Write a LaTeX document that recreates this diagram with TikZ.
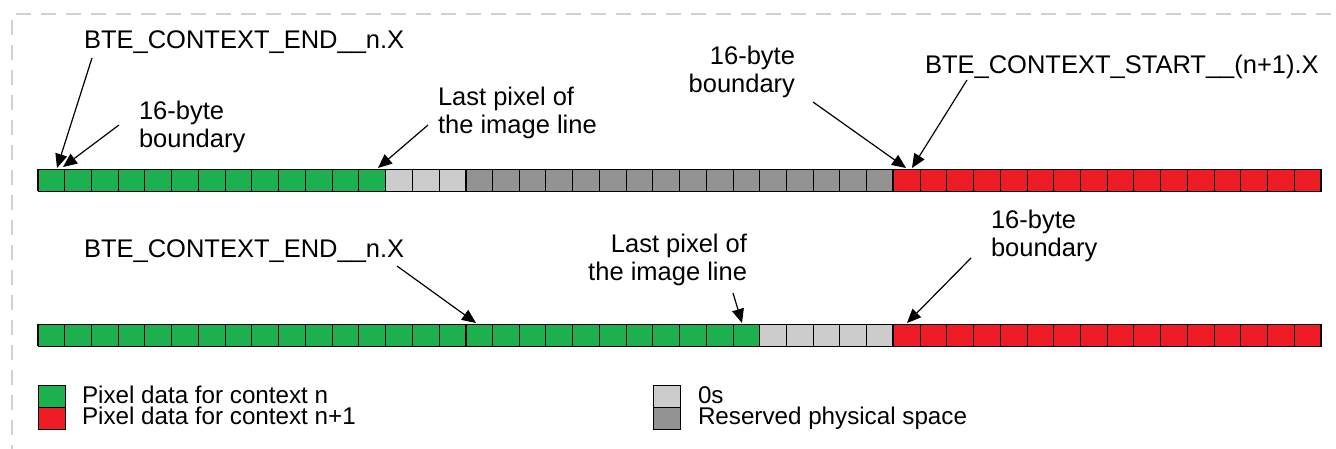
\documentclass[tikz,border=0pt]{standalone}
\usepackage{fontspec}
\setmainfont{Liberation Sans}
\usetikzlibrary{arrows.meta}
\definecolor{cgreen}{RGB}{29,176,78}
\definecolor{cred}{RGB}{238,29,37}
\definecolor{clight}{RGB}{204,204,204}
\definecolor{cdark}{RGB}{147,147,147}
\definecolor{cframe}{RGB}{210,210,210}
\begin{document}
\begin{tikzpicture}[x=1pt,y=-1pt,
  cell/.style={draw=black, line width=0.9pt, minimum width=26.73pt, minimum height=22pt, inner sep=0pt, outer sep=0pt, anchor=north west},
  key/.style={draw=black, line width=0.9pt, minimum width=27pt, minimum height=22pt, inner sep=0pt, outer sep=0pt, anchor=north west},
  lbl/.style={font=\fontsize{25.5}{28}\selectfont, inner sep=0pt, outer sep=0pt},
  leg/.style={font=\fontsize{24.2}{21}\selectfont, inner sep=0pt, outer sep=0pt, align=left, anchor=base west},
  ptr/.style={-{Triangle[length=14pt,width=12pt]}, line width=1.2pt},
  sep/.style={line width=2.2pt},
  frm/.style={draw=cframe, line width=2pt, dash pattern=on 15pt off 10pt}]
\useasboundingbox (0,0) rectangle (1336,449);
\fill[white] (0,0) rectangle (1336,449);
\draw[frm] (12,460) -- (12,14) -- (1345,14);

% bar 1
\foreach \i in {0,...,12} \node[cell, fill=cgreen] (a\i) at ({38+26.73*\i},169) {};
\foreach \i in {13,14,15} \node[cell, fill=clight] (a\i) at ({38+26.73*\i},169) {};
\foreach \i in {16,...,31} \node[cell, fill=cdark] (a\i) at ({38+26.73*\i},169) {};
\foreach \i in {32,...,47} \node[cell, fill=cred] (a\i) at ({38+26.73*\i},169) {};
% bar 2
\foreach \i in {0,...,26} \node[cell, fill=cgreen] (b\i) at ({38+26.73*\i},324) {};
\foreach \i in {27,...,31} \node[cell, fill=clight] (b\i) at ({38+26.73*\i},324) {};
\foreach \i in {32,...,47} \node[cell, fill=cred] (b\i) at ({38+26.73*\i},324) {};

\foreach \r in {a,b} {
  \foreach \k in {0,16,32} \draw[sep] (\r\k.north west) -- (\r\k.south west);
  \draw[sep] (\r47.north east) -- (\r47.south east);
}

% labels row 1 (multi-line nodes: base = last line baseline)
\node[lbl, anchor=base west] (t1) at (84,49) {BTE\_CONTEXT\_END\_\_n.X};
\node[lbl, anchor=base west, align=left] (t2) at (139,148) {16-byte\\boundary};
\node[lbl, anchor=base west, align=left] (t3) at (438,134) {Last pixel of\\the image line};
\node[lbl, anchor=base east, align=right] (t4) at (795,93) {16-byte\\boundary};
\node[lbl, anchor=base west] (t5) at (925,74) {BTE\_CONTEXT\_START\_\_(n+1).X};
% labels row 2
\node[lbl, anchor=base west] (u1) at (84,258) {BTE\_CONTEXT\_END\_\_n.X};
\node[lbl, anchor=base east, align=right] (u2) at (747,280) {Last pixel of\\the image line};
\node[lbl, anchor=base west, align=left] (u3) at (991,256) {16-byte\\boundary};

% arrow coordinates
\coordinate (s1) at (92,58);   \coordinate (e1) at (57,168);
\coordinate (s2) at (119,125); \coordinate (e2) at (63,167);
\coordinate (s3) at (428,125); \coordinate (e3) at (378,168);
\coordinate (s4) at (813,102); \coordinate (e4) at (906,168);
\coordinate (s5) at (967,80);  \coordinate (e5) at (912,168);
\coordinate (v1) at (397,266); \coordinate (f1) at (476,323);
\coordinate (v2) at (733,293); \coordinate (f2) at (742,323);
\coordinate (v3) at (971,258); \coordinate (f3) at (907,323);
\draw[ptr] (s1) -- (e1);
\draw[ptr] (s2) -- (e2);
\draw[ptr] (s3) -- (e3);
\draw[ptr] (s4) -- (e4);
\draw[ptr] (s5) -- (e5);
\draw[ptr] (v1) -- (f1);
\draw[ptr] (v2) -- (f2);
\draw[ptr] (v3) -- (f3);

% legend
\node[key, fill=cgreen] (k1) at (38,385) {};
\node[key, fill=cred] (k2) at (38,407) {};
\node[key, fill=clight] (k3) at (653,385) {};
\node[key, fill=cdark] (k4) at (653,407) {};
\node[leg] (l1) at (82,424) {Pixel data for context n\\Pixel data for context n+1};
\node[leg] (l3) at (698,424) {0s\\Reserved physical space};
\end{tikzpicture}
\end{document}
